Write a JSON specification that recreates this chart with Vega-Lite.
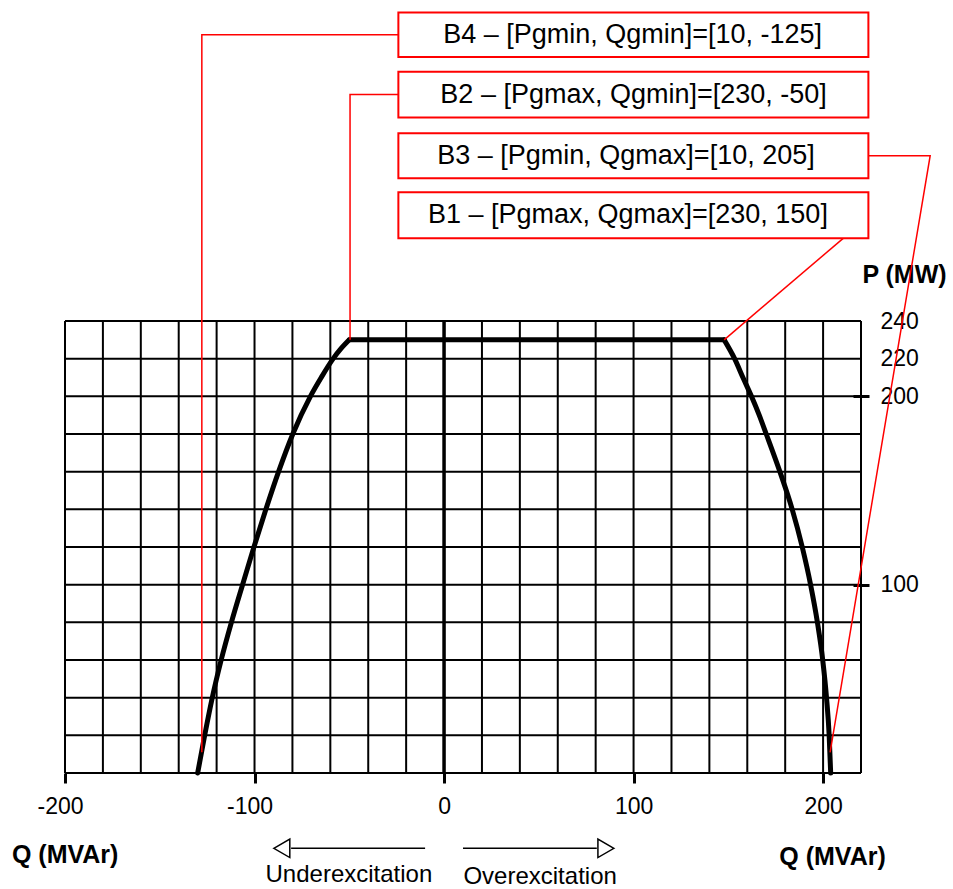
{
  "$schema": "https://vega.github.io/schema/vega-lite/v6.json",
  "width": 796,
  "height": 452,
  "autosize": {"type": "none"},
  "padding": {"left": 65, "top": 321, "right": 92, "bottom": 116},
  "background": "white",
  "config": {"view": {"stroke": null}, "font": "Liberation Sans", "text": {"font": "Liberation Sans"}},
  "datasets": {
    "grid_v": [{"q": -200}, {"q": -180}, {"q": -160}, {"q": -140}, {"q": -120}, {"q": -100}, {"q": -80}, {"q": -60}, {"q": -40}, {"q": -20}, {"q": 0}, {"q": 20}, {"q": 40}, {"q": 60}, {"q": 80}, {"q": 100}, {"q": 120}, {"q": 140}, {"q": 160}, {"q": 180}, {"q": 200}, {"q": 220}],
    "grid_h": [{"p": 0}, {"p": 20}, {"p": 40}, {"p": 60}, {"p": 80}, {"p": 100}, {"p": 120}, {"p": 140}, {"p": 160}, {"p": 180}, {"p": 200}, {"p": 220}, {"p": 240}],
    "zero_line": [{"q": 0}],
    "curve": [
      {"part": "left", "q": -130, "p": 0}, {"part": "left", "q": -126.3, "p": 20}, {"part": "left", "q": -122.3, "p": 40},
      {"part": "left", "q": -117.6, "p": 60}, {"part": "left", "q": -112.2, "p": 80}, {"part": "left", "q": -106.3, "p": 100},
      {"part": "left", "q": -100.3, "p": 120}, {"part": "left", "q": -94, "p": 140}, {"part": "left", "q": -87.3, "p": 160},
      {"part": "left", "q": -79.8, "p": 180}, {"part": "left", "q": -70.5, "p": 200}, {"part": "left", "q": -64.8, "p": 210},
      {"part": "left", "q": -58.5, "p": 220}, {"part": "left", "q": -54.3, "p": 225.4}, {"part": "left", "q": -50, "p": 230},
      {"part": "top", "q": -50, "p": 230}, {"part": "top", "q": 147.8, "p": 230},
      {"part": "right", "q": 147.8, "p": 230}, {"part": "right", "q": 153.3, "p": 220}, {"part": "right", "q": 157.7, "p": 210},
      {"part": "right", "q": 162.2, "p": 200}, {"part": "right", "q": 166.3, "p": 190}, {"part": "right", "q": 170, "p": 180},
      {"part": "right", "q": 177.2, "p": 160}, {"part": "right", "q": 183.7, "p": 140}, {"part": "right", "q": 189, "p": 120},
      {"part": "right", "q": 193.4, "p": 100}, {"part": "right", "q": 197, "p": 80}, {"part": "right", "q": 199.8, "p": 60},
      {"part": "right", "q": 201.8, "p": 40}, {"part": "right", "q": 203.2, "p": 20}, {"part": "right", "q": 204, "p": 0}
    ],
    "leaders": [
      {"id": "B4", "seq": 1, "q": -24.1, "p": 392}, {"id": "B4", "seq": 2, "q": -127.8, "p": 392}, {"id": "B4", "seq": 3, "q": -127.8, "p": 11},
      {"id": "B2", "seq": 1, "q": -24.1, "p": 360.2}, {"id": "B2", "seq": 2, "q": -49.6, "p": 360.2}, {"id": "B2", "seq": 3, "q": -49.6, "p": 230},
      {"id": "B3", "seq": 1, "q": 223.9, "p": 327.8}, {"id": "B3", "seq": 2, "q": 256.5, "p": 327.8}, {"id": "B3", "seq": 3, "q": 203.7, "p": 11},
      {"id": "B1", "seq": 1, "q": 210.6, "p": 283.9}, {"id": "B1", "seq": 2, "q": 147.8, "p": 230}
    ],
    "boxes": [
      {"id": "B4", "q": -24.1, "q2": 223.9, "p": 380.2, "p2": 403.8, "tq": 99.5, "tp": 392, "label": "B4 – [Pgmin, Qgmin]=[10, -125]"},
      {"id": "B2", "q": -24.1, "q2": 223.9, "p": 348.1, "p2": 372.3, "tq": 100, "tp": 360.2, "label": "B2 – [Pgmax, Qgmin]=[230, -50]"},
      {"id": "B3", "q": -24.1, "q2": 223.9, "p": 315.8, "p2": 339.7, "tq": 96, "tp": 327.8, "label": "B3 – [Pgmin, Qgmax]=[10, 205]"},
      {"id": "B1", "q": -24.1, "q2": 223.9, "p": 283.9, "p2": 308.3, "tq": 97, "tp": 296.2, "label": "B1 – [Pgmax, Qgmax]=[230, 150]"}
    ],
    "arrows": [
      {"dir": "left", "q": -10, "q2": -80.7, "p": -40, "hq": -85.6, "tq": -50.2, "tp": -54.3, "label": "Underexcitation"},
      {"dir": "right", "q": 10, "q2": 80.6, "p": -40, "hq": 85.4, "tq": 50.7, "tp": -55.4, "label": "Overexcitation"}
    ],
    "extra_titles": [{"q": -199.9, "p": -43.7, "label": "Q (MVAr)"}]
  },
  "layer": [
    {
      "data": {"name": "grid_v"},
      "mark": {"type": "rule", "stroke": "#000000", "strokeWidth": 2},
      "encoding": {
        "x": {
          "field": "q", "type": "quantitative",
          "scale": {"domain": [-200, 220], "nice": false, "zero": false},
          "axis": {
            "values": [-200, -100, 0, 100, 200],
            "labelExpr": "'' + datum.value",
            "domain": false, "grid": false,
            "ticks": true, "tickSize": 10, "tickWidth": 3, "tickColor": "#000000",
            "labelFontSize": 23, "labelColor": "#000000", "labelPadding": 12, "labelFont": "Liberation Sans",
            "labelOffset": {"condition": {"test": "datum.value < 0", "value": -5}, "value": 0},
            "labelFlush": false, "labelOverlap": false,
            "title": "Q (MVAr)", "titleFont": "Liberation Sans", "titleFontSize": 25, "titleFontWeight": "bold", "titleColor": "#000000",
            "titleX": 767, "titleY": 83, "titleAlign": "center", "titleBaseline": "middle"
          }
        }
      }
    },
    {
      "data": {"name": "grid_h"},
      "mark": {"type": "rule", "stroke": "#000000", "strokeWidth": 2},
      "encoding": {
        "y": {
          "field": "p", "type": "quantitative",
          "scale": {"domain": [0, 240], "nice": false, "zero": false},
          "axis": {
            "orient": "right", "offset": -8,
            "values": [100, 200, 220, 240],
            "labelExpr": "'' + datum.value",
            "domain": false, "grid": false,
            "ticks": true, "tickSize": 16, "tickWidth": 3, "tickColor": "#000000",
            "tickOpacity": {"condition": {"test": "datum.value >= 220", "value": 0}, "value": 1},
            "labelFontSize": 23, "labelColor": "#000000", "labelPadding": 11, "labelFont": "Liberation Sans",
            "labelAlign": "left", "labelBaseline": "middle", "labelFlush": false, "labelOverlap": false,
            "title": "P (MW)", "titleFont": "Liberation Sans", "titleFontSize": 25, "titleFontWeight": "bold", "titleColor": "#000000",
            "titleAngle": 0, "titleX": 51, "titleY": -47, "titleAlign": "center", "titleBaseline": "middle"
          }
        }
      }
    },
    {
      "data": {"name": "zero_line"},
      "mark": {"type": "rule", "stroke": "#000000", "strokeWidth": 3.5},
      "encoding": {
        "x": {"field": "q", "type": "quantitative", "scale": {"domain": [-200, 220], "nice": false, "zero": false}}
      }
    },
    {
      "data": {"name": "curve"},
      "mark": {"type": "line", "stroke": "#000000", "strokeWidth": 5, "strokeCap": "round", "strokeJoin": "round", "interpolate": "monotone", "clip": false},
      "encoding": {
        "x": {"field": "q", "type": "quantitative", "scale": {"domain": [-200, 220], "nice": false, "zero": false}},
        "y": {"field": "p", "type": "quantitative", "scale": {"domain": [0, 240], "nice": false, "zero": false}},
        "detail": {"field": "part"}
      }
    },
    {
      "data": {"name": "leaders"},
      "mark": {"type": "line", "stroke": "#ff0000", "strokeWidth": 1.5, "clip": false},
      "encoding": {
        "x": {"field": "q", "type": "quantitative", "scale": {"domain": [-200, 220], "nice": false, "zero": false}},
        "y": {"field": "p", "type": "quantitative", "scale": {"domain": [0, 240], "nice": false, "zero": false}},
        "detail": {"field": "id"},
        "order": {"field": "seq", "type": "quantitative"}
      }
    },
    {
      "data": {"name": "boxes"},
      "mark": {"type": "rect", "fill": "#ffffff", "stroke": "#ff0000", "strokeWidth": 2, "clip": false},
      "encoding": {
        "x": {"field": "q", "type": "quantitative", "scale": {"domain": [-200, 220], "nice": false, "zero": false}},
        "x2": {"field": "q2"},
        "y": {"field": "p", "type": "quantitative", "scale": {"domain": [0, 240], "nice": false, "zero": false}},
        "y2": {"field": "p2"}
      }
    },
    {
      "data": {"name": "boxes"},
      "mark": {"type": "text", "fontSize": 27, "color": "#000000", "align": "center", "baseline": "middle", "font": "Liberation Sans", "clip": false},
      "encoding": {
        "x": {"field": "tq", "type": "quantitative", "scale": {"domain": [-200, 220], "nice": false, "zero": false}},
        "y": {"field": "tp", "type": "quantitative", "scale": {"domain": [0, 240], "nice": false, "zero": false}},
        "text": {"field": "label"}
      }
    },
    {
      "data": {"name": "arrows"},
      "mark": {"type": "rule", "stroke": "#000000", "strokeWidth": 1.5, "clip": false},
      "encoding": {
        "x": {"field": "q", "type": "quantitative", "scale": {"domain": [-200, 220], "nice": false, "zero": false}},
        "x2": {"field": "q2"},
        "y": {"field": "p", "type": "quantitative", "scale": {"domain": [0, 240], "nice": false, "zero": false}}
      }
    },
    {
      "data": {"name": "arrows"},
      "mark": {"type": "point", "filled": true, "fill": "#ffffff", "stroke": "#000000", "strokeWidth": 1.5, "size": 340, "opacity": 1, "clip": false},
      "encoding": {
        "x": {"field": "hq", "type": "quantitative", "scale": {"domain": [-200, 220], "nice": false, "zero": false}},
        "y": {"field": "p", "type": "quantitative", "scale": {"domain": [0, 240], "nice": false, "zero": false}},
        "shape": {"field": "dir", "type": "nominal", "scale": {"domain": ["left", "right"], "range": ["triangle-left", "triangle-right"]}, "legend": null}
      }
    },
    {
      "data": {"name": "arrows"},
      "mark": {"type": "text", "fontSize": 24, "color": "#000000", "align": "center", "baseline": "middle", "font": "Liberation Sans", "clip": false},
      "encoding": {
        "x": {"field": "tq", "type": "quantitative", "scale": {"domain": [-200, 220], "nice": false, "zero": false}},
        "y": {"field": "tp", "type": "quantitative", "scale": {"domain": [0, 240], "nice": false, "zero": false}},
        "text": {"field": "label"}
      }
    },
    {
      "data": {"name": "extra_titles"},
      "mark": {"type": "text", "fontSize": 25, "fontWeight": "bold", "color": "#000000", "align": "center", "baseline": "middle", "font": "Liberation Sans", "clip": false},
      "encoding": {
        "x": {"field": "q", "type": "quantitative", "scale": {"domain": [-200, 220], "nice": false, "zero": false}},
        "y": {"field": "p", "type": "quantitative", "scale": {"domain": [0, 240], "nice": false, "zero": false}},
        "text": {"field": "label"}
      }
    }
  ]
}
